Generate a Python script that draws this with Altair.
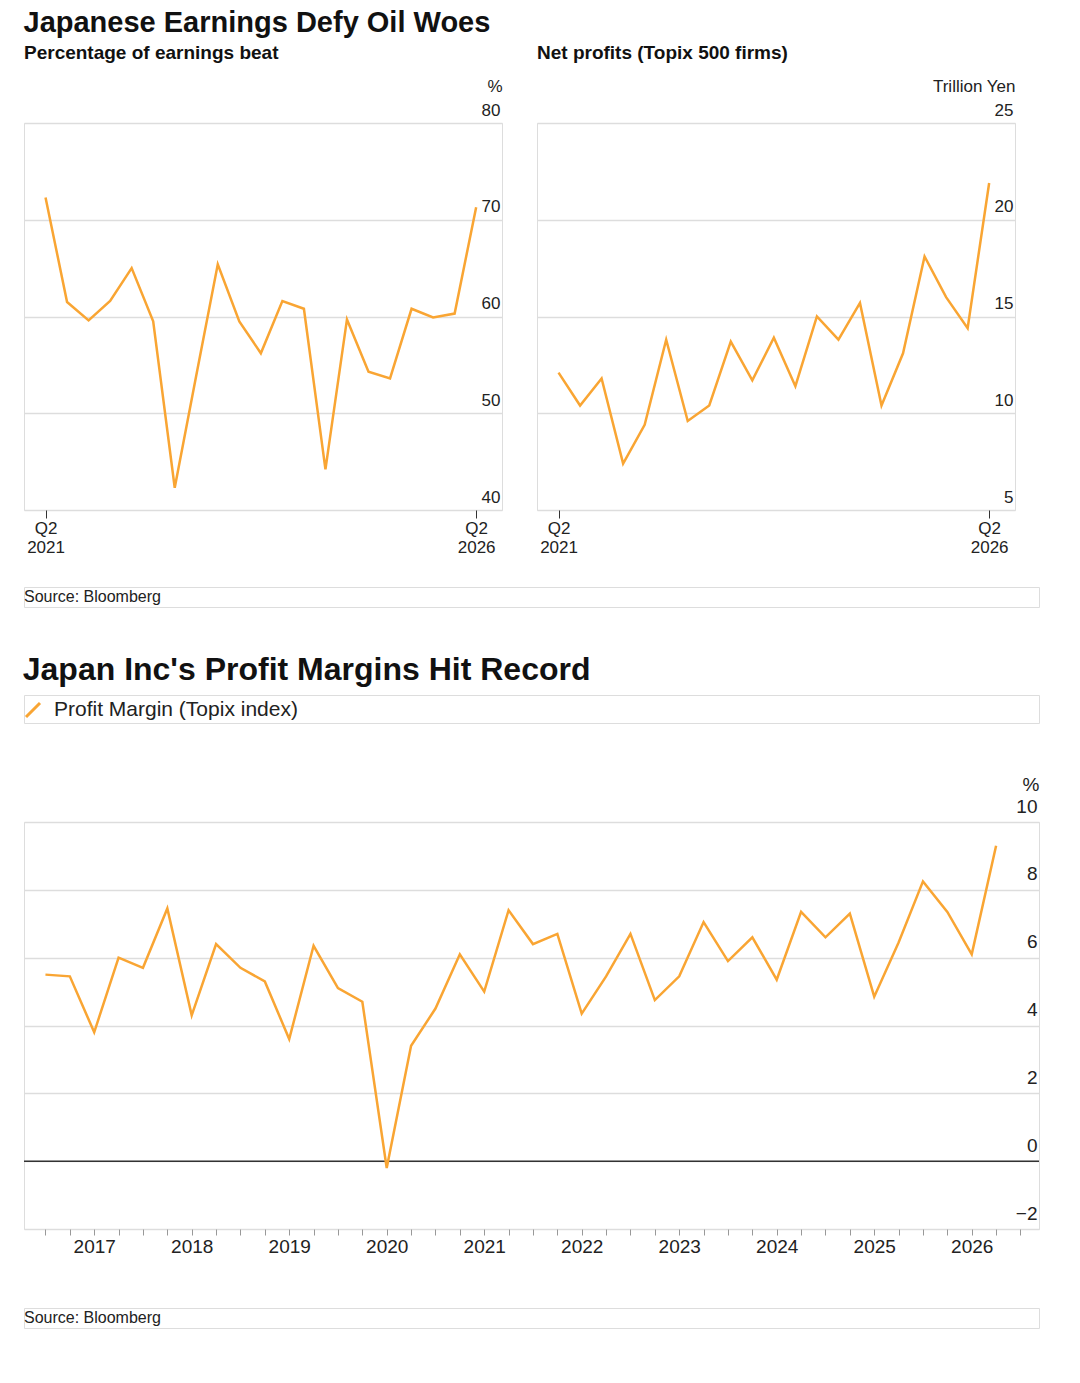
import pandas as pd
import altair as alt

FONT = "Liberation Sans"
ORANGE = "#f9a533"

# quarter index 0 = Q2 2021 ... 20 = Q2 2026
beat_pct = [72.3, 61.5, 59.6, 61.6, 65.0, 59.5, 42.3, 53.9, 65.4, 59.5, 56.2,
            61.6, 60.8, 44.2, 59.7, 54.3, 53.6, 60.8, 59.9, 60.3, 71.3]
net_profit = [12.1, 10.4, 11.8, 7.4, 9.4, 13.8, 9.6, 10.4, 13.7, 11.7, 13.9,
              11.4, 15.0, 13.8, 15.7, 10.4, 13.1, 18.1, 16.0, 14.4, 21.9]
# quarterly from mid-2016
margin_start = 2016.5
margin = [5.5, 5.45, 3.8, 6.0, 5.7, 7.45, 4.3, 6.4, 5.7, 5.3, 3.6, 6.35, 5.1, 4.7,
          -0.2, 3.4, 4.5, 6.1, 5.0, 7.4, 6.4, 6.7, 4.35, 5.45, 6.7, 4.75, 5.45,
          7.05, 5.9, 6.6, 5.35, 7.35, 6.6, 7.3, 4.85, 6.45, 8.25, 7.35, 6.1, 9.3]
series_name = ["Profit Margin (Topix index)"]

top_df = pd.DataFrame({"q": list(range(21)), "beat": beat_pct, "profit": net_profit})
bot_df = pd.DataFrame({"year": [margin_start + 0.25 * i for i in range(len(margin))],
                       "margin": margin})

x_top = alt.X("q:Q", title=None,
              scale=alt.Scale(domain=[-1, 21.2], nice=False, zero=False),
              axis=alt.Axis(values=[0, 20], grid=False, domain=False, tickColor="#333",
                            tickSize=8, labelFontSize=17, labelColor="#222",
                            labelExpr="datum.value == 0 ? ['Q2', '2021'] : ['Q2', '2026']"))


def y_axis(unit, vals, fs=17, off=-4):
    return alt.Axis(orient="right", values=vals, title=unit, titleAngle=0, titleX=0, titleY=-28,
                    titleAlign="right", titleBaseline="bottom", titleFontWeight="normal",
                    titleFontSize=fs, titleColor="#222", labelAlign="right", labelBaseline="bottom",
                    labelPadding=-2, labelOffset=off, labelFontSize=fs, labelColor="#222",
                    ticks=False, domain=False, gridColor="#ddd", gridWidth=1.5)


def sub_title(t):
    return alt.TitleParams(t, fontSize=19, fontWeight="bold", anchor="start", font=FONT,
                           color="#111", offset=14)


left = alt.Chart(top_df, title=sub_title("Percentage of earnings beat")).mark_line(
    color=ORANGE, strokeWidth=2.5).encode(
    x=x_top,
    y=alt.Y("beat:Q", scale=alt.Scale(domain=[40, 80]), axis=y_axis("%", [40, 50, 60, 70, 80]))
).properties(width=478, height=387)

right = alt.Chart(top_df, title=sub_title("Net profits (Topix 500 firms)")).mark_line(
    color=ORANGE, strokeWidth=2.5).encode(
    x=x_top,
    y=alt.Y("profit:Q", scale=alt.Scale(domain=[5, 25]),
            axis=y_axis("Trillion Yen", [5, 10, 15, 20, 25]))
).properties(width=478, height=387)


def source():
    return alt.Chart(pd.DataFrame({"t": ["Source: Bloomberg"]})).mark_text(
        align="left", baseline="middle", fontSize=16, font=FONT, color="#222").encode(
        x=alt.value(0), y=alt.value(10), text="t:N").properties(width=1015, height=20)


top_block = alt.vconcat(
    alt.hconcat(left, right, spacing=33),
    source(), spacing=30,
    title=alt.TitleParams("Japanese Earnings Defy Oil Woes", fontSize=29, anchor="start",
                          font=FONT, fontWeight="bold", offset=6, color="#111")
)

# legend row
leg_df = pd.DataFrame({"t": series_name})
leg_sym = alt.Chart(leg_df).mark_rule(color=ORANGE, strokeWidth=3).encode(
    x=alt.value(2), x2=alt.value(16), y=alt.value(22), y2=alt.value(8))
leg_txt = alt.Chart(leg_df).mark_text(align="left", baseline="middle", fontSize=21, font=FONT,
                                      color="#222").encode(x=alt.value(30), y=alt.value(15), text="t:N")
legend = alt.layer(leg_sym, leg_txt).properties(width=1015, height=28)

year_ticks = [2016.5 + 0.25 * i for i in range(41)]
line = alt.Chart(bot_df).mark_line(strokeWidth=2.5, color=ORANGE).encode(
    x=alt.X("year:Q", title=None, scale=alt.Scale(domain=[2016.28, 2026.69], nice=False, zero=False),
            axis=alt.Axis(values=year_ticks, grid=False, domain=False, tickColor="#999",
                          tickSize=6, labelFontSize=19, labelColor="#222",
                          labelExpr="datum.value % 1 == 0 ? format(datum.value, 'd') : ''")),
    y=alt.Y("margin:Q", scale=alt.Scale(domain=[-2, 10]),
            axis=y_axis("%", [-2, 0, 2, 4, 6, 8, 10], fs=19, off=-6))
)
zero = alt.Chart(pd.DataFrame({"y": [0]})).mark_rule(color="#333", strokeWidth=1.5).encode(y="y:Q")

bottom = alt.layer(zero, line).properties(width=1015, height=407)

bottom_block = alt.vconcat(
    legend, bottom, source(), spacing=50,
    title=alt.TitleParams("Japan Inc's Profit Margins Hit Record", fontSize=32, anchor="start",
                          font=FONT, fontWeight="bold", offset=8, color="#111"))

chart = alt.vconcat(top_block, bottom_block, spacing=45).configure_view(
    stroke="transparent").configure_concat(spacing=30).configure_axis(
    labelFont=FONT, titleFont=FONT).configure(padding={"left": 14, "top": 0, "right": 5, "bottom": 5})

chart.save("out.html", embed_options={"renderer": "svg", "actions": False})
